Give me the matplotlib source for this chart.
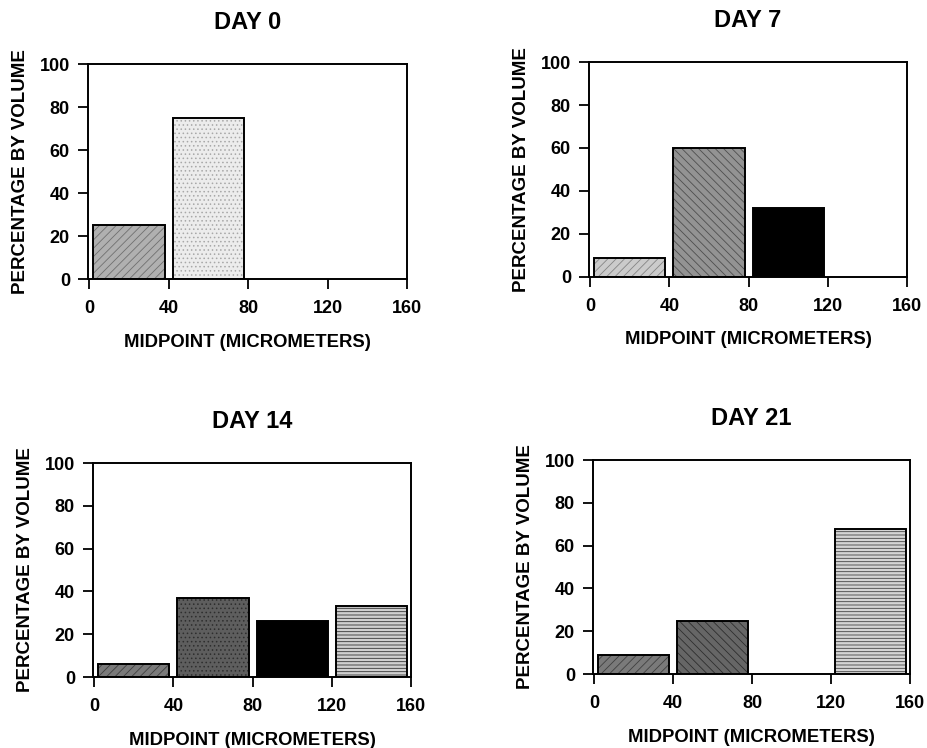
import matplotlib.pyplot as plt

plt.rcParams["font.family"] = ["Liberation Sans", "DejaVu Sans"]
plt.rcParams["font.weight"] = "bold"
plt.rcParams["hatch.linewidth"] = 0.6

# Size bins (midpoints, micrometers)
bin_mid = [20, 60, 100, 140]
bar_width = 36

# Percentage by volume per bin
day0 = [25, 75, 0, 0]
day7 = [9, 60, 32, 0]
day14 = [6, 37, 26, 33]
day21 = [9, 25, 0, 68]

titles = ["DAY 0", "DAY 7", "DAY 14", "DAY 21"]
x_ticks = [0, 40, 80, 120, 160]
y_ticks = [0, 20, 40, 60, 80, 100]

# fill styles (face, hatch, hatch colour) per bar
styles = {
    "DAY 0": [("#b0b0b0", "////", "#707070"), ("#ececec", "....", "#a8a8a8"), None, None],
    "DAY 7": [("#cbcbcb", "////", "#858585"), ("#939393", "\\\\\\\\", "#4e4e4e"), ("#000000", "", "#000000"), None],
    "DAY 14": [("#7a7a7a", "////", "#404040"), ("#5e5e5e", "....", "#2e2e2e"), ("#000000", "", "#000000"), ("#cfcfcf", "-----", "#333333")],
    "DAY 21": [("#7a7a7a", "////", "#404040"), ("#666666", "\\\\\\\\", "#2e2e2e"), None, ("#d4d4d4", "-----", "#444444")],
}

# axes rectangles in figure fractions
rects = [
    [0.0948, 0.627, 0.3438, 0.2874],
    [0.6347, 0.6297, 0.3427, 0.2874],
    [0.1002, 0.0949, 0.3427, 0.2861],
    [0.639, 0.0989, 0.3416, 0.286],
]

fig = plt.figure(figsize=(9.28, 7.48), dpi=100)

for title, values, rect in zip(titles, [day0, day7, day14, day21], rects):
    ax = fig.add_axes(rect)
    for i, (xm, h) in enumerate(zip(bin_mid, values)):
        st = styles[title][i]
        if h == 0 or st is None:
            continue
        face, hatch, hcol = st
        ax.bar(xm, h, width=bar_width, color=face, hatch=hatch,
               edgecolor=hcol, linewidth=0, zorder=2)
        ax.bar(xm, h, width=bar_width, fill=False, edgecolor="black",
               linewidth=1.4, zorder=3)

    ax.set_xlim(-0.6, 160)
    ax.set_ylim(0, 100)
    ax.set_xticks(x_ticks)
    ax.set_yticks(y_ticks)
    ax.tick_params(direction="out", length=7, width=1.3, labelsize=13)
    ax.tick_params(axis="x", pad=8)
    ax.tick_params(axis="y", pad=6)
    for sp in ax.spines.values():
        sp.set_linewidth(1.4)

    ax.set_title(title, fontsize=17, fontweight="bold", pad=25)
    ax.set_xlabel("MIDPOINT (MICROMETERS)", fontsize=13.3, fontweight="bold", labelpad=12)
    ax.set_ylabel("PERCENTAGE BY VOLUME", fontsize=13.5, fontweight="bold", labelpad=8)

fig.savefig("out.png", dpi=100)
